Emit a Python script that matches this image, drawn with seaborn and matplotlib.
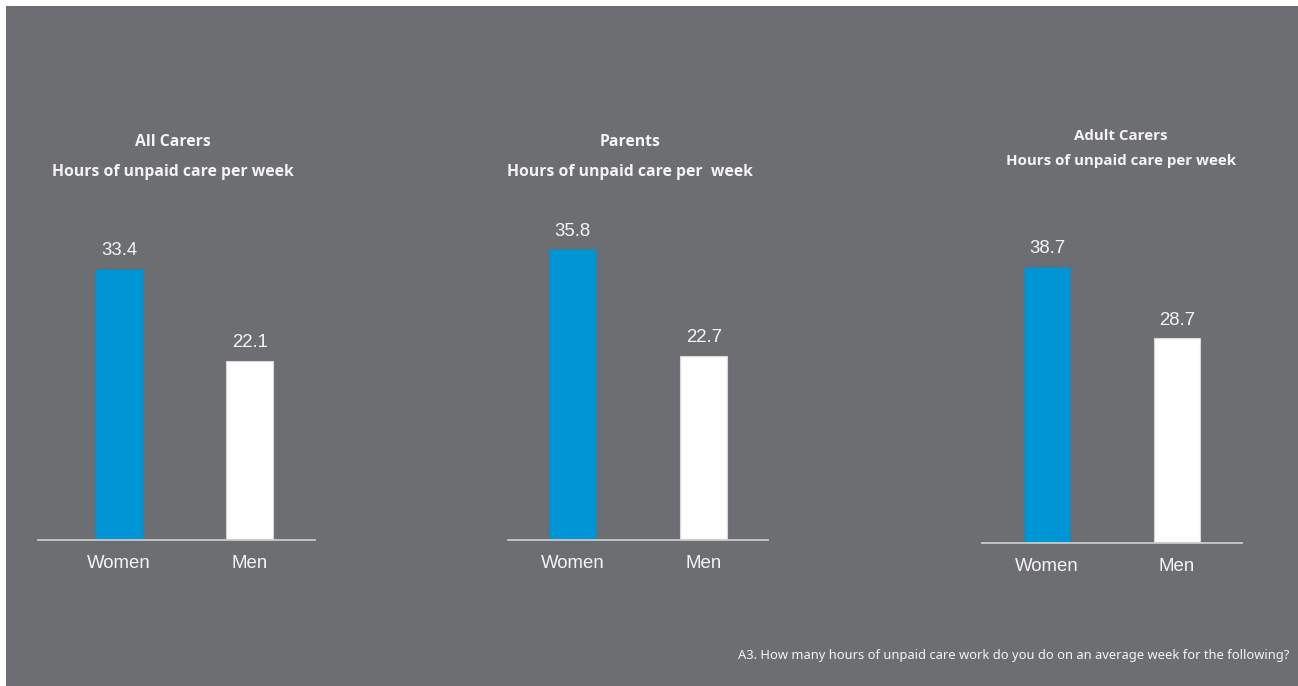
import matplotlib
matplotlib.use("Agg")
import matplotlib.pyplot as plt
from matplotlib.patches import Rectangle
import seaborn as sns

# Hours of unpaid care per week, by group and gender
genders = ["Women", "Men"]
all_carers = [33.4, 22.1]
parents = [35.8, 22.7]
adult_carers = [38.7, 28.7]

group_titles = ["All Carers", "Parents", "Adult Carers"]
subtitles = ["Hours of unpaid care per week",
             "Hours of unpaid care per  week",
             "Hours of unpaid care per week"]
footnote = "A3. How many hours of unpaid care work do you do on an average week for the following?"

BG = "#6d6e71"
BLUE = "#0096d6"
WHITE = "#ffffff"
TXT = "#f4f4f4"
AXIS = "#c9c9c9"
TITLE_FONT = ["Open Sans", "DejaVu Sans"]

W, H = 1298, 686
sns.set_theme(style="white")
plt.rcParams["font.family"] = ["Liberation Sans", "DejaVu Sans"]

fig = plt.figure(figsize=(W / 100, H / 100), dpi=100)
fig.patch.set_facecolor("white")
fig.patches.append(Rectangle((6 / W, 0), 1 - 6 / W, 1 - 6 / H,
                             transform=fig.transFigure, facecolor=BG,
                             edgecolor="none", zorder=-10))


def frac(x, y):
    return x / W, 1 - y / H


# panel geometry in pixels: left, right, baseline, top, ymax, x-limits
panels = [
    dict(vals=all_carers, l=38, r=315, b=540, t=200, ymax=41.9, xlim=(-0.62, 1.50),
         tx=173, ty1=142, ty2=172, tsize=11.3),
    dict(vals=parents, l=508, r=768, b=540, t=200, ymax=41.9, xlim=(-0.49, 1.49),
         tx=630, ty1=142, ty2=172, tsize=11.3),
    dict(vals=adult_carers, l=982, r=1242, b=543, t=200, ymax=48.1, xlim=(-0.5, 1.5),
         tx=1121, ty1=136, ty2=161, tsize=10.9),
]

for i, p in enumerate(panels):
    x0, y0 = frac(p["l"], p["b"])
    ax = fig.add_axes([x0, y0, (p["r"] - p["l"]) / W, (p["b"] - p["t"]) / H])
    ax.set_facecolor("none")
    sns.barplot(x=genders, y=p["vals"], hue=genders, palette=[BLUE, WHITE],
                width=0.36, legend=False, ax=ax, saturation=1, linewidth=0.8)
    for patch, col in zip(ax.patches, ["#2f7fa6", "#d8d8d8"]):
        patch.set_edgecolor(col)
    ax.set_ylim(0, p["ymax"])
    ax.set_xlim(*p["xlim"])
    for s in ["top", "right", "left"]:
        ax.spines[s].set_visible(False)
    ax.spines["bottom"].set_color(AXIS)
    ax.spines["bottom"].set_linewidth(1.3)
    ax.set_yticks([])
    ax.set_ylabel("")
    ax.set_xlabel("")
    ax.tick_params(axis="x", length=0, pad=11, labelsize=13.4, labelcolor=TXT)
    for container in ax.containers:
        ax.bar_label(container, fmt="%.1f", padding=7, fontsize=13.4, color=TXT)

    fig.text(*frac(p["tx"], p["ty1"]), group_titles[i], ha="center", va="center",
             fontsize=p["tsize"], fontweight="bold", color=TXT, family=TITLE_FONT)
    fig.text(*frac(p["tx"], p["ty2"]), subtitles[i], ha="center", va="center",
             fontsize=p["tsize"], fontweight="bold", color=TXT, family=TITLE_FONT)

fig.text(*frac(1289, 655), footnote, ha="right", va="center", fontsize=9.3,
         color=TXT, family=["Noto Sans", "DejaVu Sans"])

fig.savefig("out.png", dpi=100, facecolor=fig.get_facecolor())
